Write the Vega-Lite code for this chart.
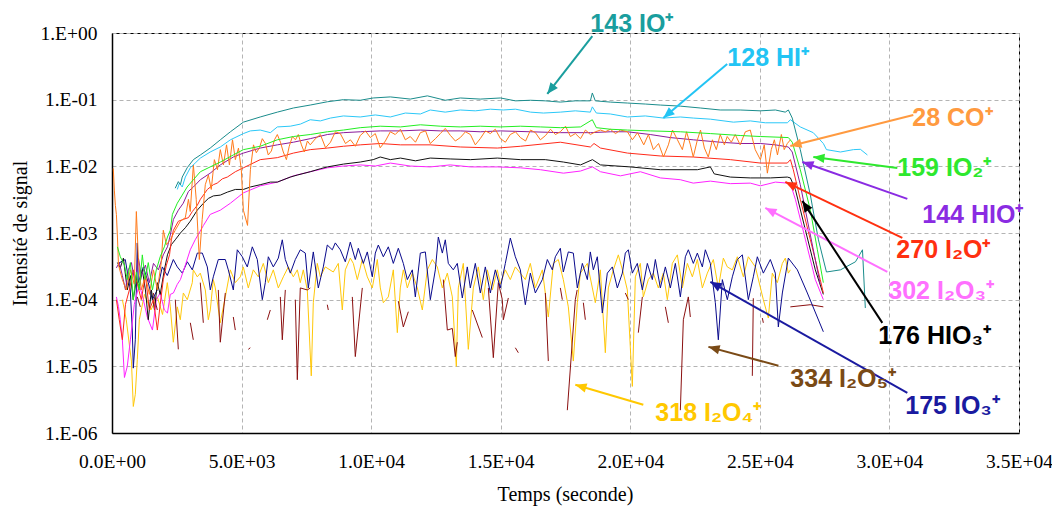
{
"$schema":"https://vega.github.io/schema/vega-lite/v6.json",
"width":907,"height":400,
"autosize":{"type":"none"},
"padding":{"left":112,"top":33,"right":33,"bottom":74},
"background":"white",
"config":{"view":{"stroke":"#000","strokeWidth":1}},
"datasets":{
"teal":[{"t":2440,"v":0.0047},{"t":2560,"v":0.0059},{"t":2640,"v":0.0053},{"t":2710,"v":0.0069},{"t":2900,"v":0.0095},{"t":3140,"v":0.0126},{"t":3410,"v":0.0148},{"t":3790,"v":0.0188},{"t":4180,"v":0.025},{"t":4570,"v":0.033},{"t":5070,"v":0.046},{"t":5720,"v":0.055},{"t":6380,"v":0.065},{"t":7000,"v":0.075},{"t":7650,"v":0.083},{"t":8310,"v":0.093},{"t":8930,"v":0.1},{"t":9580,"v":0.098},{"t":10080,"v":0.106},{"t":10740,"v":0.11},{"t":11510,"v":0.102},{"t":12170,"v":0.114},{"t":12860,"v":0.098},{"t":13440,"v":0.106},{"t":14210,"v":0.102},{"t":14990,"v":0.106},{"t":15570,"v":0.096},{"t":16150,"v":0.098},{"t":16720,"v":0.096},{"t":17300,"v":0.092},{"t":17880,"v":0.096},{"t":18460,"v":0.096},{"t":18535,"v":0.126},{"t":18650,"v":0.096},{"t":19230,"v":0.092},{"t":19890,"v":0.089},{"t":20580,"v":0.086},{"t":21160,"v":0.083},{"t":21930,"v":0.08},{"t":22700,"v":0.075},{"t":23470,"v":0.07},{"t":24240,"v":0.07},{"t":25020,"v":0.068},{"t":25600,"v":0.07},{"t":25980,"v":0.065},{"t":26100,"v":0.07},{"t":26250,"v":0.053},{"t":26560,"v":0.0178},{"t":26950,"v":0.0037},{"t":27260,"v":0.00079},{"t":27570,"v":0.00026},{"t":28110,"v":0.00028},{"t":28690,"v":0.00037},{"t":28960,"v":0.00056},{"t":29070,"v":0.000075}],
"cyan":[{"t":2520,"v":0.0045},{"t":2600,"v":0.0056},{"t":2710,"v":0.0049},{"t":2830,"v":0.0069},{"t":3020,"v":0.0095},{"t":3210,"v":0.0112},{"t":3410,"v":0.0133},{"t":3790,"v":0.0164},{"t":4180,"v":0.0195},{"t":4570,"v":0.025},{"t":5070,"v":0.031},{"t":5340,"v":0.034},{"t":5720,"v":0.035},{"t":6110,"v":0.032},{"t":6380,"v":0.039},{"t":6880,"v":0.04},{"t":7270,"v":0.043},{"t":7650,"v":0.05},{"t":8040,"v":0.048},{"t":8430,"v":0.053},{"t":8930,"v":0.057},{"t":9580,"v":0.055},{"t":10160,"v":0.059},{"t":10740,"v":0.055},{"t":11320,"v":0.063},{"t":11900,"v":0.061},{"t":12280,"v":0.07},{"t":12860,"v":0.065},{"t":13440,"v":0.07},{"t":14020,"v":0.068},{"t":14600,"v":0.072},{"t":15100,"v":0.07},{"t":15570,"v":0.072},{"t":16150,"v":0.065},{"t":16650,"v":0.063},{"t":17300,"v":0.065},{"t":17880,"v":0.068},{"t":18460,"v":0.065},{"t":18535,"v":0.078},{"t":18690,"v":0.063},{"t":19230,"v":0.061},{"t":19890,"v":0.055},{"t":20580,"v":0.057},{"t":21280,"v":0.053},{"t":21930,"v":0.055},{"t":22430,"v":0.053},{"t":23090,"v":0.051},{"t":23980,"v":0.046},{"t":24630,"v":0.048},{"t":25210,"v":0.045},{"t":26060,"v":0.045},{"t":26180,"v":0.05},{"t":26560,"v":0.039},{"t":27060,"v":0.032},{"t":27450,"v":0.022},{"t":27570,"v":0.0178},{"t":28110,"v":0.0164},{"t":28610,"v":0.0178},{"t":28880,"v":0.018},{"t":29150,"v":0.0148}],
"green":[{"t":210,"v":0.00062},{"t":320,"v":0.00044},{"t":480,"v":0.00033},{"t":590,"v":0.0002},{"t":710,"v":0.00036},{"t":820,"v":0.0001},{"t":940,"v":0.00026},{"t":1050,"v":0.00014},{"t":1170,"v":0.00047},{"t":1280,"v":0.0002},{"t":1400,"v":0.00036},{"t":1560,"v":0.00014},{"t":1710,"v":0.00028},{"t":1860,"v":0.00044},{"t":2020,"v":0.00062},{"t":2140,"v":0.00087},{"t":2250,"v":0.0011},{"t":2330,"v":0.0019},{"t":2520,"v":0.0028},{"t":2710,"v":0.0037},{"t":2900,"v":0.0049},{"t":3140,"v":0.0063},{"t":3410,"v":0.0083},{"t":3790,"v":0.0098},{"t":4180,"v":0.0116},{"t":4680,"v":0.0148},{"t":5070,"v":0.0178},{"t":5720,"v":0.02},{"t":6380,"v":0.025},{"t":7000,"v":0.028},{"t":7650,"v":0.03},{"t":8310,"v":0.033},{"t":8930,"v":0.035},{"t":9580,"v":0.038},{"t":10350,"v":0.04},{"t":11130,"v":0.039},{"t":11900,"v":0.042},{"t":12670,"v":0.04},{"t":13440,"v":0.039},{"t":14210,"v":0.04},{"t":14990,"v":0.039},{"t":15760,"v":0.04},{"t":16530,"v":0.039},{"t":17300,"v":0.038},{"t":18080,"v":0.039},{"t":18535,"v":0.05},{"t":18690,"v":0.038},{"t":19230,"v":0.036},{"t":19890,"v":0.035},{"t":20770,"v":0.034},{"t":21930,"v":0.033},{"t":23090,"v":0.031},{"t":24240,"v":0.029},{"t":25020,"v":0.028},{"t":26100,"v":0.027},{"t":26250,"v":0.023},{"t":26560,"v":0.0089},{"t":26950,"v":0.0022},{"t":27220,"v":0.00056},{"t":27450,"v":0.00018}],
"purple":[{"t":170,"v":0.0003},{"t":280,"v":0.00036},{"t":400,"v":0.00023},{"t":520,"v":0.00014},{"t":630,"v":0.00028},{"t":750,"v":0.00036},{"t":900,"v":0.00017},{"t":1020,"v":0.00042},{"t":1130,"v":0.00023},{"t":1290,"v":0.00033},{"t":1440,"v":0.00018},{"t":1600,"v":0.00035},{"t":1790,"v":0.00028},{"t":1980,"v":0.00047},{"t":2140,"v":0.00062},{"t":2250,"v":0.00093},{"t":2370,"v":0.0016},{"t":2560,"v":0.0022},{"t":2750,"v":0.0028},{"t":2950,"v":0.0042},{"t":3140,"v":0.0049},{"t":3410,"v":0.0063},{"t":3790,"v":0.0079},{"t":4180,"v":0.0105},{"t":4680,"v":0.0138},{"t":5070,"v":0.0158},{"t":5720,"v":0.0188},{"t":6380,"v":0.021},{"t":7000,"v":0.023},{"t":7650,"v":0.026},{"t":8310,"v":0.03},{"t":8930,"v":0.032},{"t":9580,"v":0.033},{"t":10350,"v":0.034},{"t":11130,"v":0.034},{"t":11900,"v":0.035},{"t":12670,"v":0.034},{"t":13440,"v":0.034},{"t":14210,"v":0.033},{"t":14990,"v":0.034},{"t":16150,"v":0.033},{"t":17300,"v":0.032},{"t":18460,"v":0.032},{"t":19230,"v":0.033},{"t":19890,"v":0.033},{"t":20770,"v":0.03},{"t":21540,"v":0.027},{"t":22430,"v":0.025},{"t":23470,"v":0.023},{"t":24240,"v":0.022},{"t":25020,"v":0.022},{"t":25600,"v":0.021},{"t":26100,"v":0.0195},{"t":26250,"v":0.0164},{"t":26560,"v":0.0053},{"t":26950,"v":0.00093},{"t":27330,"v":0.00017}],
"red":[{"t":170,"v":0.0001},{"t":280,"v":0.00005},{"t":400,"v":0.000025},{"t":520,"v":0.000085},{"t":670,"v":0.00014},{"t":820,"v":0.00028},{"t":980,"v":0.00017},{"t":1130,"v":0.0001},{"t":1290,"v":0.00023},{"t":1440,"v":0.00007},{"t":1600,"v":0.0001},{"t":1750,"v":0.000035},{"t":1860,"v":0.000085},{"t":1980,"v":0.0002},{"t":2100,"v":0.00033},{"t":2220,"v":0.00047},{"t":2290,"v":0.00079},{"t":2370,"v":0.0011},{"t":2560,"v":0.0015},{"t":2750,"v":0.0016},{"t":2950,"v":0.0017},{"t":3100,"v":0.0021},{"t":3290,"v":0.0026},{"t":3410,"v":0.0032},{"t":3680,"v":0.0045},{"t":3910,"v":0.0053},{"t":4060,"v":0.0056},{"t":4260,"v":0.0065},{"t":4450,"v":0.0069},{"t":4760,"v":0.0083},{"t":5070,"v":0.0095},{"t":5720,"v":0.0126},{"t":6380,"v":0.0135},{"t":7000,"v":0.0158},{"t":7650,"v":0.0178},{"t":8310,"v":0.0188},{"t":8930,"v":0.02},{"t":9580,"v":0.021},{"t":10350,"v":0.022},{"t":11130,"v":0.021},{"t":12280,"v":0.021},{"t":13440,"v":0.0195},{"t":14870,"v":0.0188},{"t":15760,"v":0.02},{"t":17300,"v":0.023},{"t":18460,"v":0.0195},{"t":18600,"v":0.022},{"t":18850,"v":0.0188},{"t":19890,"v":0.0158},{"t":21160,"v":0.0143},{"t":22430,"v":0.0138},{"t":23860,"v":0.0126},{"t":25020,"v":0.0112},{"t":26060,"v":0.0112},{"t":26180,"v":0.0126},{"t":26290,"v":0.0089},{"t":26560,"v":0.0032},{"t":26950,"v":0.00079},{"t":27330,"v":0.0002},{"t":27450,"v":0.000126}],
"black":[{"t":210,"v":0.00036},{"t":320,"v":0.0003},{"t":440,"v":0.00042},{"t":590,"v":0.00014},{"t":710,"v":0.00023},{"t":820,"v":0.0001},{"t":940,"v":0.0002},{"t":1050,"v":0.00015},{"t":1170,"v":0.00028},{"t":1290,"v":0.00014},{"t":1400,"v":0.00005},{"t":1520,"v":0.00014},{"t":1640,"v":0.00007},{"t":1750,"v":0.00018},{"t":1860,"v":0.00012},{"t":2020,"v":0.00028},{"t":2140,"v":0.00047},{"t":2290,"v":0.00067},{"t":2440,"v":0.00079},{"t":2640,"v":0.001},{"t":2830,"v":0.0012},{"t":3020,"v":0.0015},{"t":3290,"v":0.0022},{"t":3530,"v":0.0028},{"t":3720,"v":0.0033},{"t":3910,"v":0.0036},{"t":4180,"v":0.0037},{"t":4450,"v":0.0041},{"t":4760,"v":0.0045},{"t":5070,"v":0.0045},{"t":5340,"v":0.0049},{"t":5720,"v":0.0053},{"t":6110,"v":0.0058},{"t":6380,"v":0.0058},{"t":6880,"v":0.0069},{"t":7150,"v":0.0074},{"t":7650,"v":0.0083},{"t":8040,"v":0.0092},{"t":8310,"v":0.0098},{"t":8930,"v":0.0108},{"t":9580,"v":0.0116},{"t":10080,"v":0.0126},{"t":10350,"v":0.0138},{"t":10740,"v":0.0126},{"t":11130,"v":0.0133},{"t":11710,"v":0.0121},{"t":12280,"v":0.0133},{"t":13050,"v":0.0129},{"t":13830,"v":0.0126},{"t":14870,"v":0.0133},{"t":15760,"v":0.0126},{"t":16720,"v":0.0126},{"t":17420,"v":0.0116},{"t":18080,"v":0.0105},{"t":18540,"v":0.0126},{"t":18850,"v":0.0105},{"t":20000,"v":0.0098},{"t":21160,"v":0.0089},{"t":22590,"v":0.0089},{"t":23090,"v":0.0098},{"t":23240,"v":0.0077},{"t":23860,"v":0.0069},{"t":24630,"v":0.0067},{"t":25410,"v":0.0067},{"t":26060,"v":0.0069},{"t":26180,"v":0.0067},{"t":26370,"v":0.0045},{"t":26760,"v":0.0011},{"t":27140,"v":0.00028},{"t":27450,"v":0.00012}],
"magenta":[{"t":170,"v":0.00011},{"t":250,"v":0.000079},{"t":320,"v":0.00005},{"t":400,"v":0.000025},{"t":480,"v":0.0000068},{"t":590,"v":0.00001},{"t":710,"v":0.000025},{"t":860,"v":0.000085},{"t":1050,"v":0.00017},{"t":1210,"v":0.0001},{"t":1360,"v":0.000055},{"t":1560,"v":0.000035},{"t":1710,"v":0.0001},{"t":1860,"v":0.000126},{"t":2020,"v":0.00007},{"t":2140,"v":0.000063},{"t":2250,"v":0.00012},{"t":2370,"v":0.000126},{"t":2520,"v":0.00017},{"t":2640,"v":0.0002},{"t":2830,"v":0.00033},{"t":3020,"v":0.00056},{"t":3210,"v":0.00079},{"t":3530,"v":0.0013},{"t":3790,"v":0.0019},{"t":4180,"v":0.0022},{"t":4570,"v":0.0028},{"t":5070,"v":0.004},{"t":5720,"v":0.0051},{"t":6380,"v":0.0058},{"t":7000,"v":0.0072},{"t":7650,"v":0.0083},{"t":8310,"v":0.0095},{"t":8930,"v":0.0101},{"t":9580,"v":0.0105},{"t":10160,"v":0.0101},{"t":10740,"v":0.0112},{"t":11510,"v":0.0101},{"t":12280,"v":0.0098},{"t":13050,"v":0.0105},{"t":13830,"v":0.0098},{"t":14870,"v":0.0098},{"t":15760,"v":0.0095},{"t":16530,"v":0.0089},{"t":17420,"v":0.0079},{"t":18080,"v":0.0085},{"t":18540,"v":0.0098},{"t":18850,"v":0.0083},{"t":19620,"v":0.0072},{"t":20390,"v":0.0083},{"t":21160,"v":0.0067},{"t":21930,"v":0.0063},{"t":22430,"v":0.0056},{"t":23090,"v":0.006},{"t":23860,"v":0.0055},{"t":24630,"v":0.0056},{"t":25020,"v":0.0051},{"t":25600,"v":0.0058},{"t":26060,"v":0.0056},{"t":26180,"v":0.0055},{"t":26370,"v":0.0032},{"t":26760,"v":0.00079},{"t":27140,"v":0.0002},{"t":27450,"v":0.0001}],
"orange":[{"t":50,"v":0.0093},{"t":90,"v":0.0044},{"t":130,"v":0.0026},{"t":170,"v":0.0019},{"t":210,"v":0.00087},{"t":250,"v":0.00033},{"t":400,"v":0.0002},{"t":550,"v":0.00014},{"t":710,"v":0.00028},{"t":860,"v":0.00017},{"t":940,"v":0.0021},{"t":1020,"v":0.0004},{"t":1130,"v":0.00014},{"t":1290,"v":0.00023},{"t":1440,"v":0.00012},{"t":1600,"v":0.00028},{"t":1750,"v":0.00014},{"t":1900,"v":0.00036},{"t":1980,"v":0.0011},{"t":2100,"v":0.00067},{"t":2250,"v":0.00079},{"t":2440,"v":0.0011},{"t":2640,"v":0.0015},{"t":2830,"v":0.0017},{"t":2950,"v":0.0032},{"t":3020,"v":0.0021},{"t":3140,"v":0.0105},{"t":3250,"v":0.0032},{"t":3370,"v":0.0004},{"t":3480,"v":0.0016},{"t":3600,"v":0.0053},{"t":3720,"v":0.0074},{"t":3830,"v":0.0045},{"t":3950,"v":0.0126},{"t":4070,"v":0.0089},{"t":4180,"v":0.0178},{"t":4300,"v":0.0105},{"t":4420,"v":0.021},{"t":4530,"v":0.0105},{"t":4650,"v":0.025},{"t":4760,"v":0.0126},{"t":4880,"v":0.0188},{"t":4990,"v":0.0089},{"t":5070,"v":0.0022},{"t":5230,"v":0.0013},{"t":5340,"v":0.0089},{"t":5460,"v":0.021},{"t":5570,"v":0.016},{"t":5690,"v":0.019},{"t":5800,"v":0.026},{"t":5920,"v":0.022},{"t":6030,"v":0.0148},{"t":6150,"v":0.017},{"t":6270,"v":0.025},{"t":6380,"v":0.03},{"t":6500,"v":0.023},{"t":6610,"v":0.0164},{"t":6730,"v":0.0126},{"t":6840,"v":0.02},{"t":6960,"v":0.028},{"t":7080,"v":0.025},{"t":7190,"v":0.03},{"t":7310,"v":0.021},{"t":7420,"v":0.0164},{"t":7540,"v":0.024},{"t":7650,"v":0.021},{"t":7850,"v":0.026},{"t":8040,"v":0.03},{"t":8240,"v":0.019},{"t":8430,"v":0.023},{"t":8620,"v":0.033},{"t":8810,"v":0.031},{"t":9010,"v":0.022},{"t":9200,"v":0.025},{"t":9390,"v":0.02},{"t":9580,"v":0.029},{"t":9780,"v":0.034},{"t":9970,"v":0.027},{"t":10160,"v":0.031},{"t":10350,"v":0.019},{"t":10550,"v":0.024},{"t":10740,"v":0.033},{"t":10930,"v":0.03},{"t":11130,"v":0.036},{"t":11320,"v":0.025},{"t":11510,"v":0.028},{"t":11710,"v":0.023},{"t":11900,"v":0.032},{"t":12100,"v":0.034},{"t":12280,"v":0.022},{"t":12480,"v":0.026},{"t":12670,"v":0.031},{"t":12860,"v":0.037},{"t":13060,"v":0.029},{"t":13250,"v":0.024},{"t":13440,"v":0.027},{"t":13640,"v":0.033},{"t":13830,"v":0.03},{"t":14020,"v":0.021},{"t":14210,"v":0.026},{"t":14410,"v":0.034},{"t":14600,"v":0.031},{"t":14790,"v":0.036},{"t":14990,"v":0.026},{"t":15180,"v":0.023},{"t":15370,"v":0.03},{"t":15570,"v":0.033},{"t":15760,"v":0.027},{"t":15960,"v":0.024},{"t":16150,"v":0.035},{"t":16340,"v":0.032},{"t":16530,"v":0.025},{"t":16730,"v":0.029},{"t":16920,"v":0.036},{"t":17110,"v":0.03},{"t":17300,"v":0.033},{"t":17500,"v":0.04},{"t":17690,"v":0.028},{"t":17880,"v":0.031},{"t":18080,"v":0.026},{"t":18270,"v":0.035},{"t":18460,"v":0.03},{"t":18650,"v":0.033},{"t":18850,"v":0.035},{"t":19040,"v":0.033},{"t":19230,"v":0.036},{"t":19430,"v":0.031},{"t":19620,"v":0.035},{"t":19890,"v":0.033},{"t":20080,"v":0.025},{"t":20280,"v":0.032},{"t":20520,"v":0.021},{"t":20700,"v":0.03},{"t":20890,"v":0.0178},{"t":21090,"v":0.022},{"t":21280,"v":0.0138},{"t":21470,"v":0.021},{"t":21630,"v":0.035},{"t":21820,"v":0.025},{"t":22010,"v":0.0178},{"t":22170,"v":0.033},{"t":22320,"v":0.021},{"t":22430,"v":0.0138},{"t":22590,"v":0.025},{"t":22710,"v":0.035},{"t":22860,"v":0.0188},{"t":23010,"v":0.0138},{"t":23170,"v":0.025},{"t":23320,"v":0.0178},{"t":23470,"v":0.03},{"t":23630,"v":0.021},{"t":23740,"v":0.028},{"t":23900,"v":0.023},{"t":24050,"v":0.03},{"t":24240,"v":0.021},{"t":24440,"v":0.033},{"t":24630,"v":0.035},{"t":24820,"v":0.0178},{"t":25020,"v":0.0126},{"t":25170,"v":0.021},{"t":25290,"v":0.0079},{"t":25440,"v":0.0178},{"t":25560,"v":0.025},{"t":25680,"v":0.0148},{"t":25830,"v":0.03},{"t":25940,"v":0.0178},{"t":26060,"v":0.022},{"t":26180,"v":0.025}],
"navy":[{"t":243,"v":0.00035},{"t":513,"v":0.0004},{"t":706,"v":0.00014},{"t":783,"v":0.000035},{"t":822,"v":0.0000094},{"t":899,"v":0.000025},{"t":976,"v":0.00071},{"t":1015,"v":0.00018},{"t":1208,"v":0.00031},{"t":1401,"v":0.00018},{"t":1555,"v":0.0001},{"t":1748,"v":0.00014},{"t":1941,"v":0.00031},{"t":2134,"v":0.00023},{"t":2366,"v":0.0004},{"t":2520,"v":0.00031},{"t":2713,"v":0.00025},{"t":2906,"v":0.00037},{"t":3099,"v":0.00028},{"t":3292,"v":0.0005},{"t":3485,"v":0.0005},{"t":3678,"v":0.00031},{"t":3793,"v":0.00014},{"t":3909,"v":0.00022},{"t":4102,"v":0.0004},{"t":4372,"v":0.0004},{"t":4488,"v":0.00028},{"t":4681,"v":0.00014},{"t":4835,"v":0.00056},{"t":5028,"v":0.00044},{"t":5221,"v":0.00031},{"t":5414,"v":0.00062},{"t":5607,"v":0.0004},{"t":5800,"v":0.0001},{"t":5916,"v":0.00018},{"t":6032,"v":0.00044},{"t":6225,"v":0.00031},{"t":6418,"v":0.00042},{"t":6572,"v":0.00079},{"t":6688,"v":0.0004},{"t":6881,"v":0.00025},{"t":7074,"v":0.0004},{"t":7266,"v":0.00056},{"t":7459,"v":0.0005},{"t":7575,"v":0.00015},{"t":7768,"v":0.00052},{"t":7961,"v":0.00015},{"t":8154,"v":0.00031},{"t":8308,"v":0.00066},{"t":8501,"v":0.00056},{"t":8617,"v":0.00071},{"t":8810,"v":0.00056},{"t":9003,"v":0.00037},{"t":9196,"v":0.00073},{"t":9389,"v":0.0004},{"t":9505,"v":0.00059},{"t":9698,"v":0.00035},{"t":9852,"v":0.00052},{"t":10045,"v":0.00022},{"t":10161,"v":0.0005},{"t":10277,"v":0.00066},{"t":10470,"v":0.00044},{"t":10663,"v":0.00062},{"t":10856,"v":0.00035},{"t":11049,"v":0.00059},{"t":11242,"v":0.00035},{"t":11396,"v":0.0002},{"t":11589,"v":0.00028},{"t":11705,"v":0.00011},{"t":11898,"v":0.0005},{"t":12091,"v":0.00052},{"t":12284,"v":0.0001},{"t":12477,"v":0.00028},{"t":12592,"v":0.00087},{"t":12747,"v":0.0005},{"t":12862,"v":0.00079},{"t":12978,"v":0.00035},{"t":13171,"v":0.00028},{"t":13325,"v":0.00035},{"t":13518,"v":0.000106},{"t":13711,"v":0.00031},{"t":13827,"v":0.00015},{"t":14020,"v":0.00035},{"t":14213,"v":0.000126},{"t":14406,"v":0.00031},{"t":14599,"v":0.000126},{"t":14792,"v":0.00028},{"t":14985,"v":0.00015},{"t":15178,"v":0.00035},{"t":15371,"v":0.00084},{"t":15564,"v":0.00044},{"t":15757,"v":0.00028},{"t":15950,"v":0.000084},{"t":16143,"v":0.00025},{"t":16336,"v":0.000126},{"t":16606,"v":0.0002},{"t":16799,"v":0.0004},{"t":16992,"v":0.00028},{"t":17108,"v":0.00044},{"t":17301,"v":0.00059},{"t":17416,"v":0.00026},{"t":17609,"v":0.00052},{"t":17802,"v":0.0005},{"t":17957,"v":0.00015},{"t":18150,"v":0.00035},{"t":18343,"v":0.0002},{"t":18458,"v":0.00052},{"t":18574,"v":0.00028},{"t":18728,"v":0.00044},{"t":18921,"v":0.000063},{"t":19114,"v":0.00025},{"t":19307,"v":0.00031},{"t":19500,"v":0.00015},{"t":19693,"v":0.00025},{"t":19809,"v":0.0005},{"t":19925,"v":0.00056},{"t":20079,"v":0.00025},{"t":20272,"v":0.00035},{"t":20465,"v":0.00014},{"t":20658,"v":0.00035},{"t":20851,"v":0.0002},{"t":20967,"v":0.0004},{"t":21160,"v":0.00015},{"t":21353,"v":0.00031},{"t":21546,"v":0.00015},{"t":21739,"v":0.00035},{"t":21932,"v":0.00011},{"t":22125,"v":0.00044},{"t":22240,"v":0.00056},{"t":22433,"v":0.00035},{"t":22588,"v":0.0005},{"t":22781,"v":0.00031},{"t":22896,"v":0.00056},{"t":23089,"v":0.00035},{"t":23282,"v":0.00009},{"t":23398,"v":0.000025},{"t":23552,"v":0.0002},{"t":23745,"v":0.0001},{"t":23938,"v":0.00022},{"t":24131,"v":0.0004},{"t":24324,"v":0.00047},{"t":24555,"v":0.0001},{"t":24748,"v":0.00022},{"t":24903,"v":0.00044},{"t":25134,"v":0.00025},{"t":25404,"v":0.0004},{"t":25597,"v":0.00025},{"t":25713,"v":0.000039},{"t":25868,"v":0.000126},{"t":26099,"v":0.00042},{"t":26446,"v":0.00028},{"t":26832,"v":0.000126},{"t":27450,"v":0.000033}],
"gold":[{"t":400,"v":0.0001},{"t":550,"v":0.00005},{"t":670,"v":0.000021},{"t":750,"v":0.000012},{"t":822,"v":0.0000025},{"t":899,"v":0.0000038},{"t":976,"v":0.0000126},{"t":1054,"v":0.00005},{"t":1250,"v":0.00012},{"t":1500,"v":0.00007},{"t":1750,"v":0.00011},{"t":1950,"v":0.00006},{"t":2134,"v":0.00018},{"t":2250,"v":0.000078},{"t":2366,"v":0.000023},{"t":2520,"v":0.000078},{"t":2636,"v":0.00005},{"t":2752,"v":0.000126},{"t":2906,"v":0.0001},{"t":3099,"v":0.00018},{"t":3137,"v":0.00028},{"t":3292,"v":0.00022},{"t":3407,"v":0.00025},{"t":3601,"v":0.00014},{"t":3716,"v":0.00005},{"t":3793,"v":0.00007},{"t":3909,"v":0.0002},{"t":3986,"v":0.00015},{"t":4179,"v":0.000045},{"t":4372,"v":0.00011},{"t":4565,"v":0.00028},{"t":4758,"v":0.00018},{"t":4951,"v":0.00022},{"t":5067,"v":0.00031},{"t":5260,"v":0.00015},{"t":5453,"v":0.00028},{"t":5646,"v":0.00022},{"t":5839,"v":0.00035},{"t":6032,"v":0.00018},{"t":6225,"v":0.00028},{"t":6418,"v":0.00015},{"t":6611,"v":0.00022},{"t":6804,"v":0.00031},{"t":6997,"v":0.00022},{"t":7151,"v":0.00028},{"t":7266,"v":0.00018},{"t":7382,"v":0.00028},{"t":7536,"v":0.00014},{"t":7690,"v":0.0000072},{"t":7768,"v":0.00009},{"t":7922,"v":0.00035},{"t":8038,"v":0.00022},{"t":8231,"v":0.00031},{"t":8540,"v":0.00026},{"t":8733,"v":0.00035},{"t":8887,"v":0.00007},{"t":9003,"v":0.00028},{"t":9196,"v":0.00042},{"t":9312,"v":0.00035},{"t":9466,"v":0.0002},{"t":9659,"v":0.0004},{"t":9852,"v":0.00022},{"t":10045,"v":0.00015},{"t":10238,"v":0.0004},{"t":10354,"v":0.00015},{"t":10470,"v":0.00009},{"t":10663,"v":0.00011},{"t":10856,"v":0.00028},{"t":11010,"v":0.000032},{"t":11126,"v":0.00015},{"t":11242,"v":0.00028},{"t":11396,"v":0.00015},{"t":11589,"v":0.00025},{"t":11782,"v":0.00015},{"t":11975,"v":0.00007},{"t":12168,"v":0.00028},{"t":12361,"v":0.0004},{"t":12554,"v":0.00031},{"t":12747,"v":0.00015},{"t":12940,"v":0.00025},{"t":13133,"v":0.00011},{"t":13287,"v":0.00001},{"t":13364,"v":0.00015},{"t":13557,"v":0.00035},{"t":13750,"v":0.000018},{"t":13943,"v":0.00015},{"t":14136,"v":0.00031},{"t":14329,"v":0.0001},{"t":14483,"v":0.00028},{"t":14676,"v":0.00014},{"t":14869,"v":0.00028},{"t":14985,"v":0.00017},{"t":15178,"v":0.00028},{"t":15371,"v":0.0002},{"t":15564,"v":0.00031},{"t":15757,"v":0.00025},{"t":15950,"v":0.0002},{"t":16143,"v":0.00035},{"t":16336,"v":0.00015},{"t":16606,"v":0.00028},{"t":16837,"v":0.000055},{"t":17030,"v":0.00035},{"t":17223,"v":0.0004},{"t":17416,"v":0.0002},{"t":17609,"v":0.000078},{"t":17802,"v":0.000012},{"t":17957,"v":0.00009},{"t":18073,"v":0.00025},{"t":18343,"v":0.00035},{"t":18536,"v":0.00015},{"t":18651,"v":0.00009},{"t":18844,"v":0.00028},{"t":19037,"v":0.000016},{"t":19153,"v":0.00015},{"t":19346,"v":0.00028},{"t":19539,"v":0.00047},{"t":19732,"v":0.00025},{"t":19886,"v":0.00014},{"t":20079,"v":0.000005},{"t":20195,"v":0.00022},{"t":20388,"v":0.00035},{"t":20503,"v":0.00011},{"t":20696,"v":0.0002},{"t":20889,"v":0.00025},{"t":21082,"v":0.00015},{"t":21275,"v":0.00025},{"t":21430,"v":0.0001},{"t":21623,"v":0.00035},{"t":21816,"v":0.00047},{"t":22009,"v":0.00015},{"t":22202,"v":0.00035},{"t":22395,"v":0.00022},{"t":22588,"v":0.0004},{"t":22781,"v":0.00015},{"t":22974,"v":0.00025},{"t":23205,"v":0.0004},{"t":23398,"v":0.00015},{"t":23591,"v":0.00042},{"t":23745,"v":0.00031},{"t":23938,"v":0.00028},{"t":24131,"v":0.00044},{"t":24363,"v":0.00022},{"t":24555,"v":0.00044},{"t":24826,"v":0.00031},{"t":25134,"v":0.0001},{"t":25327,"v":0.000053},{"t":25481,"v":0.00025},{"t":25675,"v":0.00018},{"t":25868,"v":0.00035},{"t":25984,"v":0.00042},{"t":26099,"v":0.00025},{"t":26176,"v":0.00028}],
"darkred":[{"t":976,"v":0.00011},{"t":1092,"v":0.000078},{"t":1150,"v":null},{"t":1594,"v":0.000126},{"t":1748,"v":0.00007},{"t":1800,"v":null},{"t":2443,"v":0.0001},{"t":2559,"v":0.000018},{"t":2600,"v":null},{"t":3022,"v":0.000045},{"t":3137,"v":0.000025},{"t":3200,"v":null},{"t":3407,"v":0.00018},{"t":3524,"v":0.000045},{"t":3600,"v":null},{"t":4102,"v":0.00014},{"t":4179,"v":0.000023},{"t":4372,"v":0.000126},{"t":4450,"v":null},{"t":4681,"v":0.000055},{"t":4758,"v":0.000035},{"t":4800,"v":null},{"t":5260,"v":0.000018},{"t":5337,"v":0.000019},{"t":5400,"v":null},{"t":5993,"v":0.00005},{"t":6109,"v":0.00007},{"t":6200,"v":null},{"t":6495,"v":0.00011},{"t":6572,"v":0.000025},{"t":6688,"v":0.00014},{"t":6750,"v":null},{"t":7074,"v":0.0001},{"t":7151,"v":0.0000063},{"t":7266,"v":0.00015},{"t":7536,"v":0.00014},{"t":7652,"v":0.00015},{"t":7700,"v":null},{"t":8308,"v":0.000084},{"t":8347,"v":0.00007},{"t":8400,"v":null},{"t":9273,"v":0.00011},{"t":9389,"v":0.000014},{"t":9505,"v":0.000039},{"t":9659,"v":0.00015},{"t":9700,"v":null},{"t":11049,"v":0.000095},{"t":11242,"v":0.000039},{"t":11435,"v":0.000066},{"t":11500,"v":null},{"t":12785,"v":0.0002},{"t":12940,"v":0.000035},{"t":13133,"v":0.000037},{"t":13248,"v":0.000014},{"t":13325,"v":0.000023},{"t":13400,"v":null},{"t":13904,"v":0.00007},{"t":14290,"v":0.000027},{"t":14350,"v":null},{"t":14522,"v":0.00015},{"t":14715,"v":0.0000135},{"t":14908,"v":0.00018},{"t":15062,"v":0.0001},{"t":15101,"v":0.00005},{"t":15294,"v":0.000106},{"t":15350,"v":null},{"t":15564,"v":0.000019},{"t":15680,"v":0.000016},{"t":15750,"v":null},{"t":16722,"v":0.000126},{"t":16837,"v":0.000012},{"t":16900,"v":null},{"t":17301,"v":0.00015},{"t":17377,"v":0.0001},{"t":17450,"v":null},{"t":17570,"v":0.0000022},{"t":17879,"v":0.0001},{"t":17950,"v":0.00014},{"t":18000,"v":null},{"t":18189,"v":0.00009},{"t":18266,"v":0.00005},{"t":18300,"v":null},{"t":19809,"v":0.000126},{"t":19925,"v":0.0001},{"t":20000,"v":null},{"t":20310,"v":0.000032},{"t":20465,"v":0.00011},{"t":20550,"v":null},{"t":21353,"v":0.000078},{"t":21469,"v":0.000045},{"t":21550,"v":null},{"t":21932,"v":0.0000022},{"t":22048,"v":0.00005},{"t":22240,"v":0.00011},{"t":22317,"v":0.000055},{"t":22400,"v":null},{"t":24709,"v":0.0000072},{"t":24748,"v":0.000105},{"t":24800,"v":null},{"t":25095,"v":0.000053},{"t":25134,"v":0.000045},{"t":25200,"v":null},{"t":26176,"v":0.000078},{"t":26948,"v":0.000084},{"t":27450,"v":0.000078}],
"ann":[
{"txt":"143 IO⁺","t":18458,"v":1.36,"t1":18535,"v1":0.9,"t2":16798,"v2":0.122},
{"txt":"128 HI⁺","t":23745,"v":0.42,"t1":23740,"v1":0.343,"t2":21275,"v2":0.0532},
{"txt":"28 CO⁺","t":30883,"v":0.053,"t1":30922,"v1":0.059,"t2":26176,"v2":0.0202},
{"txt":"159 IO₂⁺","t":30304,"v":0.0095,"t1":30305,"v1":0.00946,"t2":27063,"v2":0.0138},
{"txt":"144 HIO⁺","t":31269,"v":0.00187,"t1":30691,"v1":0.00325,"t2":26639,"v2":0.01164},
{"txt":"270 I₂O⁺","t":30266,"v":0.00056,"t1":30498,"v1":0.000845,"t2":25982,"v2":0.00583},
{"txt":"302 I₂O₃⁺","t":29957,"v":0.000136,"t1":29919,"v1":0.000261,"t2":25210,"v2":0.00238},
{"txt":"176 HIO₃⁺","t":29571,"v":0.0000287,"t1":29726,"v1":0.0000449,"t2":26639,"v2":0.00303},
{"txt":"334 I₂O₅⁺","t":26176,"v":0.0000065,"t1":25716,"v1":0.0000102,"t2":23015,"v2":0.0000196},
{"txt":"175 IO₃⁺","t":30613,"v":0.00000256,"t1":30691,"v1":0.000004,"t2":23090,"v2":0.000185},
{"txt":"318 I₂O₄⁺","t":20966,"v":0.000002,"t1":20503,"v1":0.00000265,"t2":17879,"v2":0.00000528}
]},
"encoding":{
"x":{"field":"t","type":"quantitative","scale":{"domain":[0,35000],"nice":false,"zero":false},
 "axis":{"title":"Temps (seconde)","values":[0,5000,10000,15000,20000,25000,30000,35000],
 "labelExpr":"datum.value == 0 ? '0.0E+00' : format(datum.value / pow(10, floor(log(datum.value)/LN10 + 1e-9)), '.1f') + 'E+0' + floor(log(datum.value)/LN10 + 1e-9)",
 "grid":true,"gridColor":"#b4b4b4","gridDash":[4,3],"ticks":false,"tickSize":0,"labelPadding":19,"labelFont":"Liberation Serif","labelFontSize":19.5,"labelColor":"#000","labelFlush":false,"labelOverlap":false,"labelBound":false,
 "titleFont":"Liberation Serif","titleFontSize":20,"titleFontWeight":"normal","titleColor":"#000","titleX":453,"titleY":61,"titleBaseline":"middle","titleAlign":"center","domainColor":"#000","domainWidth":1.5}},
"y":{"field":"v","type":"quantitative","scale":{"type":"log","domain":[0.000001,1],"nice":false},
 "axis":{"title":"Intensité de signal","values":[0.000001,0.00001,0.0001,0.001,0.01,0.1,1],
 "labelExpr":"'1.E' + (round(log(datum.value)/LN10) >= 0 ? '+' : '-') + '0' + abs(round(log(datum.value)/LN10))",
 "grid":true,"gridColor":"#b4b4b4","gridDash":[4,3],"ticks":false,"tickSize":0,"labelPadding":15,"labelFont":"Liberation Serif","labelFontSize":19.5,"labelColor":"#000","labelOverlap":false,"labelBound":false,
 "titleFont":"Liberation Serif","titleFontSize":20,"titleFontWeight":"normal","titleColor":"#000","titleX":-92,"titleY":200,"titleAngle":270,"titleBaseline":"middle","titleAlign":"center","domainColor":"#000","domainWidth":1.5}}
},
"layer":[
{"data":{"name":"gold"},"mark":{"type":"line","color":"#ffc80a","strokeWidth":1}},
{"data":{"name":"darkred"},"mark":{"type":"line","color":"#8b1010","strokeWidth":1,"invalid":"break-paths-show-domains"}},
{"data":{"name":"navy"},"mark":{"type":"line","color":"#0a0a8c","strokeWidth":1}},
{"data":{"name":"magenta"},"mark":{"type":"line","color":"#ff22ff","strokeWidth":1}},
{"data":{"name":"black"},"mark":{"type":"line","color":"#111111","strokeWidth":1}},
{"data":{"name":"red"},"mark":{"type":"line","color":"#ff2a1a","strokeWidth":1}},
{"data":{"name":"purple"},"mark":{"type":"line","color":"#8b1a9b","strokeWidth":1}},
{"data":{"name":"orange"},"mark":{"type":"line","color":"#ff7a1a","strokeWidth":1}},
{"data":{"name":"green"},"mark":{"type":"line","color":"#22ee22","strokeWidth":1}},
{"data":{"name":"cyan"},"mark":{"type":"line","color":"#2bc8f8","strokeWidth":1}},
{"data":{"name":"teal"},"mark":{"type":"line","color":"#1a8c8c","strokeWidth":1}},
{"data":{"name":"ann"},"mark":{"type":"rule","strokeWidth":2},
 "encoding":{"x":{"field":"t1","type":"quantitative"},"y":{"field":"v1","type":"quantitative"},"x2":{"field":"t2"},"y2":{"field":"v2"},
 "color":{"field":"txt","type":"nominal","legend":null,"scale":{"domain":["143 IO⁺","128 HI⁺","28 CO⁺","159 IO₂⁺","144 HIO⁺","270 I₂O⁺","302 I₂O₃⁺","176 HIO₃⁺","334 I₂O₅⁺","175 IO₃⁺","318 I₂O₄⁺"],"range":["#1a9e9e","#22c4f4","#ff9a40","#2ee82e","#8a2be2","#ff3010","#ff70ff","#000000","#7a4a16","#1a1aa0","#ffc800"]}}}},
{"data":{"name":"ann"},"transform":[{"calculate":"atan2((datum.t2-datum.t1)*907/35000, (log(datum.v2)-log(datum.v1))/LN10*400/6)*180/PI","as":"ang"}],
 "mark":{"type":"point","shape":"M0,0L0.42,1L-0.42,1Z","filled":true,"size":500,"opacity":1,"strokeWidth":0},
 "encoding":{"x":{"field":"t2","type":"quantitative"},"y":{"field":"v2","type":"quantitative"},"angle":{"field":"ang","type":"quantitative","scale":null},
 "color":{"field":"txt","type":"nominal","legend":null}}},
{"data":{"name":"ann"},"mark":{"type":"text","align":"left","baseline":"middle","font":"Liberation Sans","fontWeight":"bold","fontSize":25},
 "encoding":{"text":{"field":"txt"},"color":{"field":"txt","type":"nominal","legend":null}}}
]
}
